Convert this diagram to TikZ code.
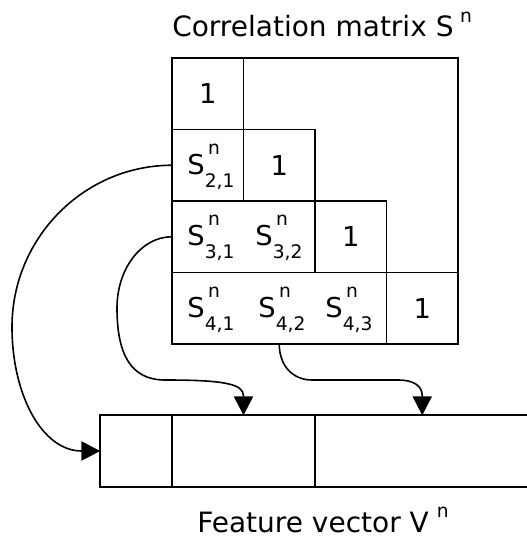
\documentclass[tikz,border=0pt]{standalone}
\usepackage{fontspec}
\setmainfont{DejaVu Sans}
\usetikzlibrary{arrows.meta}

\newcommand{\smallfnt}{\fontsize{14pt}{16pt}\selectfont}
\newcommand{\Sentry}[1]{S\rlap{\hspace{0.12em}\raisebox{0.72em}{\smallfnt n}}\raisebox{-0.5em}{\smallfnt #1}}

\begin{document}
\begin{tikzpicture}[x=0.75pt,y=0.75pt,yscale=-1,
  box/.style={draw, line width=1.2pt, inner sep=0pt, outer sep=0pt, minimum width=#1*53.625pt, minimum height=53.625pt},
  entry/.style={font=\fontsize{20.5pt}{24pt}\selectfont, inner sep=0pt},
  caption/.style={anchor=base west, inner sep=0pt, font=\fontsize{21pt}{24pt}\selectfont},
  link/.style={line width=1.2pt, -{Triangle[length=14.25pt,width=14.5pt]}}]
\useasboundingbox (0,0) rectangle (527,538);

% Titles
\node [caption] (mtitle) at (172,37) {Correlation matrix S\hspace{5pt}\raisebox{11pt}{\smallfnt n}};
\node [caption] (vtitle) at (197,532) {Feature vector V\hspace{6pt}\raisebox{11pt}{\smallfnt n}};

% Correlation matrix
\draw [line width=1.2pt] (172,58) rectangle (458,344);
\node [box=1, entry] (d1) at (207.75,93.75) {1};
\node [box=1] (r2) at (207.75,165.25) {};
\node [box=1, entry] (d2) at (279.25,165.25) {1};
\node [box=2] (r3) at (243.5,236.75) {};
\node [box=1, entry] (d3) at (350.75,236.75) {1};
\node [box=3] (r4) at (279.25,308.25) {};
\node [box=1, entry] (d4) at (422.25,308.25) {1};

% Entries
\node [entry] (s21) at (211,167) {\Sentry{2,1}};
\node [entry] (s31) at (211,238) {\Sentry{3,1}};
\node [entry] (s32) at (279,238) {\Sentry{3,2}};
\node [entry] (s41) at (211,310) {\Sentry{4,1}};
\node [entry] (s42) at (282,310) {\Sentry{4,2}};
\node [entry] (s43) at (349,310) {\Sentry{4,3}};

% Feature vector
\node [box=1] (fv1) at (136,451) {};
\node [box=2] (fv2) at (243.5,451) {};
\node [box=3] (fv3) at (422.25,451) {};

% Bends
\coordinate (b1) at (12,327);
\coordinate (b2a) at (117,308);
\coordinate (b2b) at (165,380);
\coordinate (b2c) at (243.5,396);
\coordinate (b3a) at (312,380);
\coordinate (b3b) at (398,380);
\coordinate (b3c) at (422.25,396);

% Links
\draw [link] (r2.west) .. controls +(-88,0) and +(0,-89) .. (b1) .. controls +(0,68) and +(-58,0) .. (fv1.west);
\draw [link] (r3.west) .. controls +(-31,0) and +(0,-39) .. (b2a) .. controls +(0,45) and +(-35,0) .. (b2b) .. controls +(60,0) and +(0,-12) .. (b2c) -- (fv2.north);
\draw [link] (r4.south) .. controls +(0,22) and +(-19,0) .. (b3a) -- (b3b) .. controls +(16,0) and +(0,-10) .. (b3c) -- (fv3.north);
\end{tikzpicture}
\end{document}
